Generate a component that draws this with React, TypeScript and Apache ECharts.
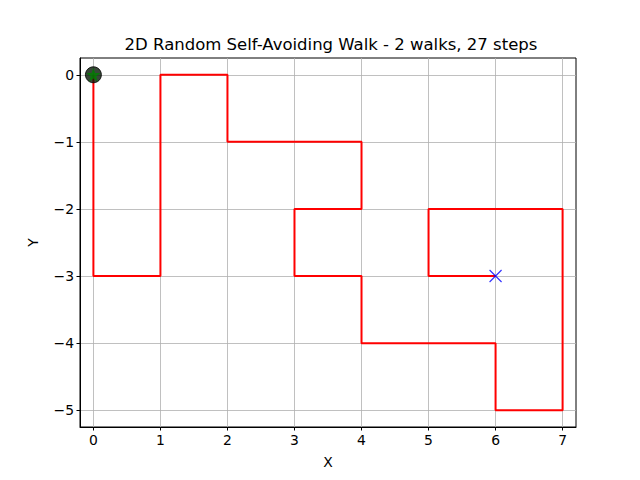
import React, { useEffect, useRef } from "react";
import * as echarts from "echarts";

const walkX = [0, 0, 0, 0, 1, 1, 1, 1, 2, 2, 3, 4, 4, 3, 3, 4, 4, 5, 6, 6, 7, 7, 7, 7, 6, 5, 5, 6];
const walkY = [0, -1, -2, -3, -3, -2, -1, 0, 0, -1, -1, -1, -2, -2, -3, -3, -4, -4, -4, -5, -5, -4, -3, -2, -2, -2, -3, -3];
const xTicks = [0, 1, 2, 3, 4, 5, 6, 7];
const yTicks = [-5, -4, -3, -2, -1, 0];
const titleText = "2D Random Self-Avoiding Walk - 2 walks, 27 steps";

const FONT = "DejaVu Sans";
const fmt = (v: number) => String(v).replace("-", "\u2212");

export default function App() {
  const ref = useRef<HTMLDivElement>(null);
  useEffect(() => {
    if (!ref.current) return;
    const chart = echarts.init(ref.current, undefined, { renderer: "svg" });
    const pts = walkX.map((x, i) => [x, walkY[i]]);
    const n = pts.length;
    chart.setOption({
      animation: false,
      textStyle: { fontFamily: FONT },
      title: {
        text: titleText,
        left: 326,
        textAlign: "center",
        top: 31,
        textStyle: { fontFamily: FONT, fontSize: 16.5, fontWeight: "normal", color: "#000" },
      },
      grid: {
        left: 80,
        right: 64,
        top: 58,
        bottom: 53,
        show: true,
        borderColor: "#000",
        borderWidth: 1,
        backgroundColor: "transparent",
      },
      xAxis: {
        type: "value",
        min: -0.2,
        max: 7.2,
        splitNumber: 7,
        name: "X",
        nameLocation: "middle",
        nameGap: 28,
        nameTextStyle: { fontFamily: FONT, fontSize: 13.9, color: "#000" },
        axisLine: { show: true, onZero: false, lineStyle: { color: "#000", width: 1 } },
        axisTick: { show: true, length: 3.5, customValues: xTicks, lineStyle: { color: "#000" } },
        axisLabel: { customValues: xTicks, formatter: fmt, fontFamily: FONT, fontSize: 13.9, color: "#000", margin: 6 },
        splitLine: { show: true, lineStyle: { color: "#b0b0b0", width: 0.8 } },
      },
      yAxis: {
        type: "value",
        min: -5.25,
        max: 0.25,
        splitNumber: 6,
        name: "Y",
        nameLocation: "middle",
        nameGap: 40,
        nameRotate: 90,
        nameTextStyle: { fontFamily: FONT, fontSize: 13.9, color: "#000" },
        axisLine: { show: true, onZero: false, lineStyle: { color: "#000", width: 1 } },
        axisTick: { show: true, length: 3.5, customValues: yTicks, lineStyle: { color: "#000" } },
        axisLabel: { customValues: yTicks, formatter: fmt, fontFamily: FONT, fontSize: 13.9, color: "#000", margin: 6 },
        splitLine: { show: true, lineStyle: { color: "#b0b0b0", width: 0.8 } },
      },
      series: [
        {
          type: "line",
          data: pts,
          symbol: "none",
          lineStyle: { color: "#ff0000", width: 2 },
          z: 2,
        },
        {
          type: "scatter",
          data: [pts[0]],
          symbol: "circle",
          symbolSize: 16,
          itemStyle: { color: "#061806", borderColor: "#000", borderWidth: 1 },
          z: 3,
        },
        {
          type: "scatter",
          data: [pts[0]],
          symbol: "path://M0,-10L2.35,-3.24L9.51,-3.09L3.8,1.24L5.88,8.09L0,4L-5.88,8.09L-3.8,1.24L-9.51,-3.09L-2.35,-3.24Z",
          symbolSize: 14,
          itemStyle: { color: "#008000", borderWidth: 0 },
          z: 4,
        },
        {
          type: "scatter",
          data: [pts[n - 1]],
          symbol: "path://M0,0L10,10M10,0L0,10",
          symbolSize: 12,
          itemStyle: { color: "none", borderColor: "#0000ff", borderWidth: 1.2 },
          z: 4,
        },
      ],
    });
    return () => chart.dispose();
  }, []);
  return <div ref={ref} style={{ width: 640, height: 480, position: "absolute", left: 0, top: 0 }} />;
}
